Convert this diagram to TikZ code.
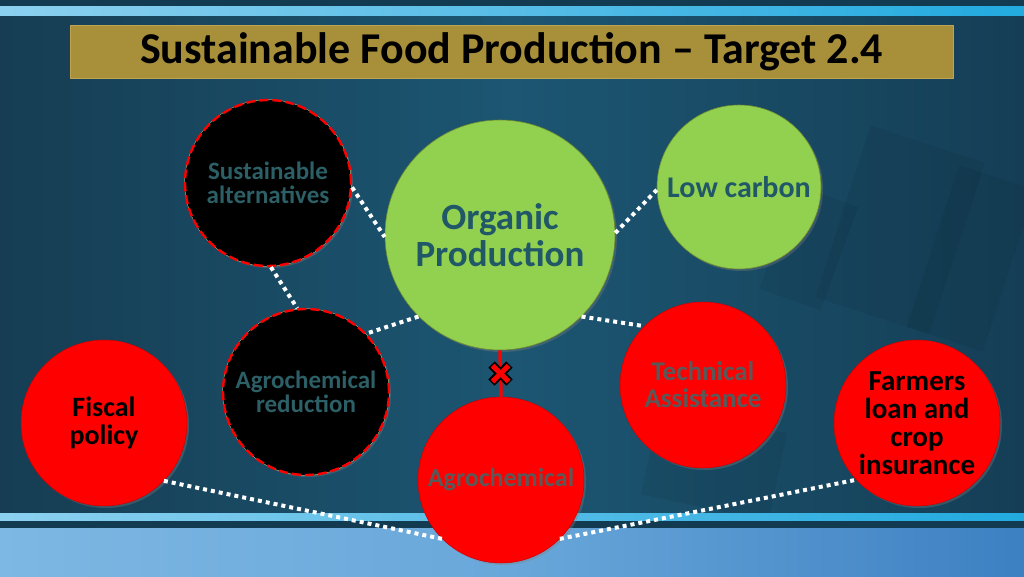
\documentclass[tikz,border=0pt]{standalone}
\usepackage{fontspec}
\setmainfont{Carlito}
\usetikzlibrary{shadows,calc}
\definecolor{bgL}{HTML}{163D53}
\definecolor{bgM}{HTML}{1C5672}
\definecolor{bgR}{HTML}{153E56}
\definecolor{barL}{HTML}{8CD0EF}
\definecolor{barR}{HTML}{22AADF}
\definecolor{barD}{HTML}{123A50}
\definecolor{lowL}{HTML}{7DB7E3}
\definecolor{lowM}{HTML}{69A7DA}
\definecolor{lowR}{HTML}{3D80C2}
\definecolor{gold}{HTML}{A88F3A}
\definecolor{goldD}{HTML}{BCA452}
\definecolor{cgreen}{HTML}{92D050}
\definecolor{cgreenD}{HTML}{6E8A2E}
\definecolor{ctext}{HTML}{215868}
\definecolor{cteal}{HTML}{2D5F66}
\definecolor{cgrey}{HTML}{595959}
\definecolor{cred}{HTML}{FF0000}
\definecolor{cedge}{HTML}{E8D08A}
\begin{document}
\begin{tikzpicture}[x=1pt,y=-1pt,
  bubble/.style={circle, minimum size=166pt, inner sep=0pt, align=center,
    drop shadow={opacity=0.35, shadow xshift=2pt, shadow yshift=-2pt}},
  greenb/.style={bubble, fill=cgreen, draw=cgreenD, line width=0.6pt, text=ctext},
  blackb/.style={bubble, fill=black, draw=cred, line width=2.4pt,
    dash pattern=on 9pt off 4pt, text=cteal,
    preaction={draw=cedge, line width=0.8pt, solid}},
  redb/.style={bubble, fill=cred, draw=cred!80!black, line width=0.5pt},
  link/.style={draw=white, line width=4pt, dash pattern=on 4pt off 4pt},
  deco/.style={fill=black, opacity=0.06},
  ]
\useasboundingbox (0,0) rectangle (1024,576);
% background
\shade[left color=bgL, right color=bgR, middle color=bgM] (0,0) rectangle (1024,528);
\fill[barD] (0,0) rectangle (1024,6);
\shade[left color=barL, right color=barR] (0,6) rectangle (1024,15);
% faint decorative panels
\fill[deco, rotate around={-18:(900,230)}] (840,140) rectangle (960,320);
\fill[deco, rotate around={-18:(960,260)}] (930,170) rectangle (1010,340);
\fill[deco, rotate around={-12:(720,460)}] (650,420) rectangle (780,510);
\fill[deco, rotate around={-20:(800,250)}] (775,190) rectangle (840,300);
% bottom bars
\shade[left color=barL, right color=barR] (0,513) rectangle (1024,521);
\fill[barD] (0,521) rectangle (1024,528);
\shade[left color=lowL, right color=lowR, middle color=lowM] (0,528) rectangle (1024,576);
% title
\node[fill=gold, draw=goldD, line width=0.8pt, minimum width=883pt, minimum height=53pt,
  inner sep=0pt, font=\bfseries\fontsize{44}{46}\selectfont, text=black] (title) at (511.5,51.5)
  {Sustainable Food Production – Target 2.4};
% bubbles
\node[greenb, minimum size=230pt, font=\bfseries\fontsize{37}{37}\selectfont] (org) at (500,235)
  {Organic\\Production};
\node[greenb, minimum size=164pt, font=\bfseries\fontsize{30}{30}\selectfont] (low) at (739,187)
  {Low carbon};
\node[blackb, font=\bfseries\fontsize{25}{24}\selectfont] (sust) at (268,183)
  {Sustainable\\alternatives};
\node[blackb, font=\bfseries\fontsize{25}{24}\selectfont] (ared) at (306,392)
  {Agrochemical\\reduction};
\node[redb, text=cgrey, font=\bfseries\fontsize{27}{27}\selectfont] (tech) at (703,385)
  {Technical\\Assistance};
\node[redb, text=black, font=\bfseries\fontsize{29}{28}\selectfont] (farm) at (917,423)
  {Farmers\\loan and\\crop\\insurance};
\node[redb, text=black, font=\bfseries\fontsize{28}{28}\selectfont] (fisc) at (104,423)
  {Fiscal\\policy};
\node[redb, text=cgrey, font=\bfseries\fontsize{26}{26}\selectfont] (agro) at (501,480)
  {Agrochemical};
% connectors
\draw[link] (sust.-3) -- (org.181);
\draw[link] (sust.-88) -- (ared.96);
\draw[link] (org.1) -- (low.182);
\draw[link] (org.225) -- (ared.44);
\draw[link] (org.-45) -- (tech.135);
\draw[link] (fisc.-44) -- (agro.225);
\draw[link] (agro.-45) -- (farm.-137);
% blocked link
\draw[cred, line width=3.5pt] (org.south) -- (agro.north);
\coordinate (xm) at ($(org.south)!0.5!(agro.north)$);
\draw[black, line width=9pt] ($(xm)+(-9,-9)$) -- ($(xm)+(9,9)$);
\draw[black, line width=9pt] ($(xm)+(-9,9)$) -- ($(xm)+(9,-9)$);
\draw[cred, line width=5pt] ($(xm)+(-8,-8)$) -- ($(xm)+(8,8)$);
\draw[cred, line width=5pt] ($(xm)+(-8,8)$) -- ($(xm)+(8,-8)$);
\end{tikzpicture}
\end{document}
